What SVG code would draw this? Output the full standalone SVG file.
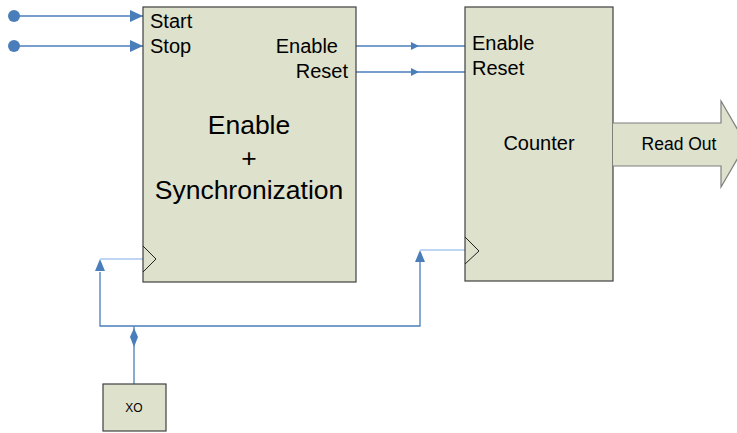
<svg xmlns="http://www.w3.org/2000/svg" width="737" height="433" viewBox="0 0 737 433">
<style>
.box{fill:#dee1cb;stroke:#404040;stroke-width:1.2}
.t{font-family:"Liberation Sans",Arial,sans-serif;fill:#000}
.w{stroke:#4a7ebb;stroke-width:1.3;fill:none}
.lw{stroke:#a9c9ef;stroke-width:1.3;fill:none}
.clk{stroke:#202020;stroke-width:1;fill:none}
</style>
<defs>
<marker id="ab" markerWidth="13" markerHeight="12" refX="13" refY="6" orient="auto" markerUnits="userSpaceOnUse"><path d="M0,0 L13,6 L0,12 Z" fill="#4a7ebb"/></marker>
</defs>
<g id="connectors">
<circle cx="14" cy="16" r="6" fill="#4a7ebb"/>
<circle cx="14" cy="46" r="6" fill="#4a7ebb"/>
<line class="w" x1="14" y1="16" x2="143" y2="16" marker-end="url(#ab)"/>
<line class="w" x1="14" y1="46" x2="143" y2="46" marker-end="url(#ab)"/>
<line class="w" x1="356" y1="46" x2="465" y2="46"/>
<path d="M411,42 L419,46 L411,50 Z" fill="#4a7ebb"/>
<line class="w" x1="356" y1="72" x2="465" y2="72"/>
<path d="M411,68 L419,72 L411,76 Z" fill="#4a7ebb"/>
<path class="w" d="M100,272 L100,326 L420,326 L420,262"/>
<path d="M100,259 L105,271 L95,271 Z" fill="#4a7ebb"/>
<path d="M420,250 L425,262 L415,262 Z" fill="#4a7ebb"/>
<line class="lw" x1="100" y1="259" x2="143" y2="259"/>
<line class="lw" x1="420" y1="250" x2="465" y2="250"/>
<line class="w" x1="134" y1="326" x2="134" y2="384"/>
<path d="M134,328 L138,337 L134,347 L130,337 Z" fill="#4a7ebb"/>
</g>
<g id="sync">
<rect class="box" x="143" y="7" width="213" height="275"/>
<path class="clk" d="M143,246 L156,259 L143,272"/>
<text class="t" x="150" y="28" font-size="20">Start</text>
<text class="t" x="150" y="53" font-size="20">Stop</text>
<text class="t" x="338" y="53" font-size="20" text-anchor="end">Enable</text>
<text class="t" x="348" y="78" font-size="20" text-anchor="end">Reset</text>
<text class="t" x="249" y="134" font-size="26.5" text-anchor="middle">Enable</text>
<text class="t" x="249" y="167" font-size="26.5" text-anchor="middle">+</text>
<text class="t" x="249" y="199" font-size="26.5" text-anchor="middle">Synchronization</text>
</g>
<g id="counter">
<rect class="box" x="465" y="7" width="148" height="274"/>
<path class="clk" d="M465,237 L479,251 L465,264"/>
<text class="t" x="472" y="50" font-size="20">Enable</text>
<text class="t" x="472" y="75" font-size="20">Reset</text>
<text class="t" x="539" y="150" font-size="20" text-anchor="middle">Counter</text>
</g>
<g id="readout">
<path d="M613,123 L721,123 L721,101 L746,144 L721,187 L721,166 L613,166" fill="#dee1cb" stroke="#7f7f7f" stroke-width="1.2"/>
<text class="t" x="679" y="150" font-size="17.5" text-anchor="middle">Read Out</text>
</g>
<g id="xo">
<rect class="box" x="103" y="384" width="63" height="47"/>
<text class="t" x="134" y="412" font-size="12" text-anchor="middle">XO</text>
</g>
</svg>
